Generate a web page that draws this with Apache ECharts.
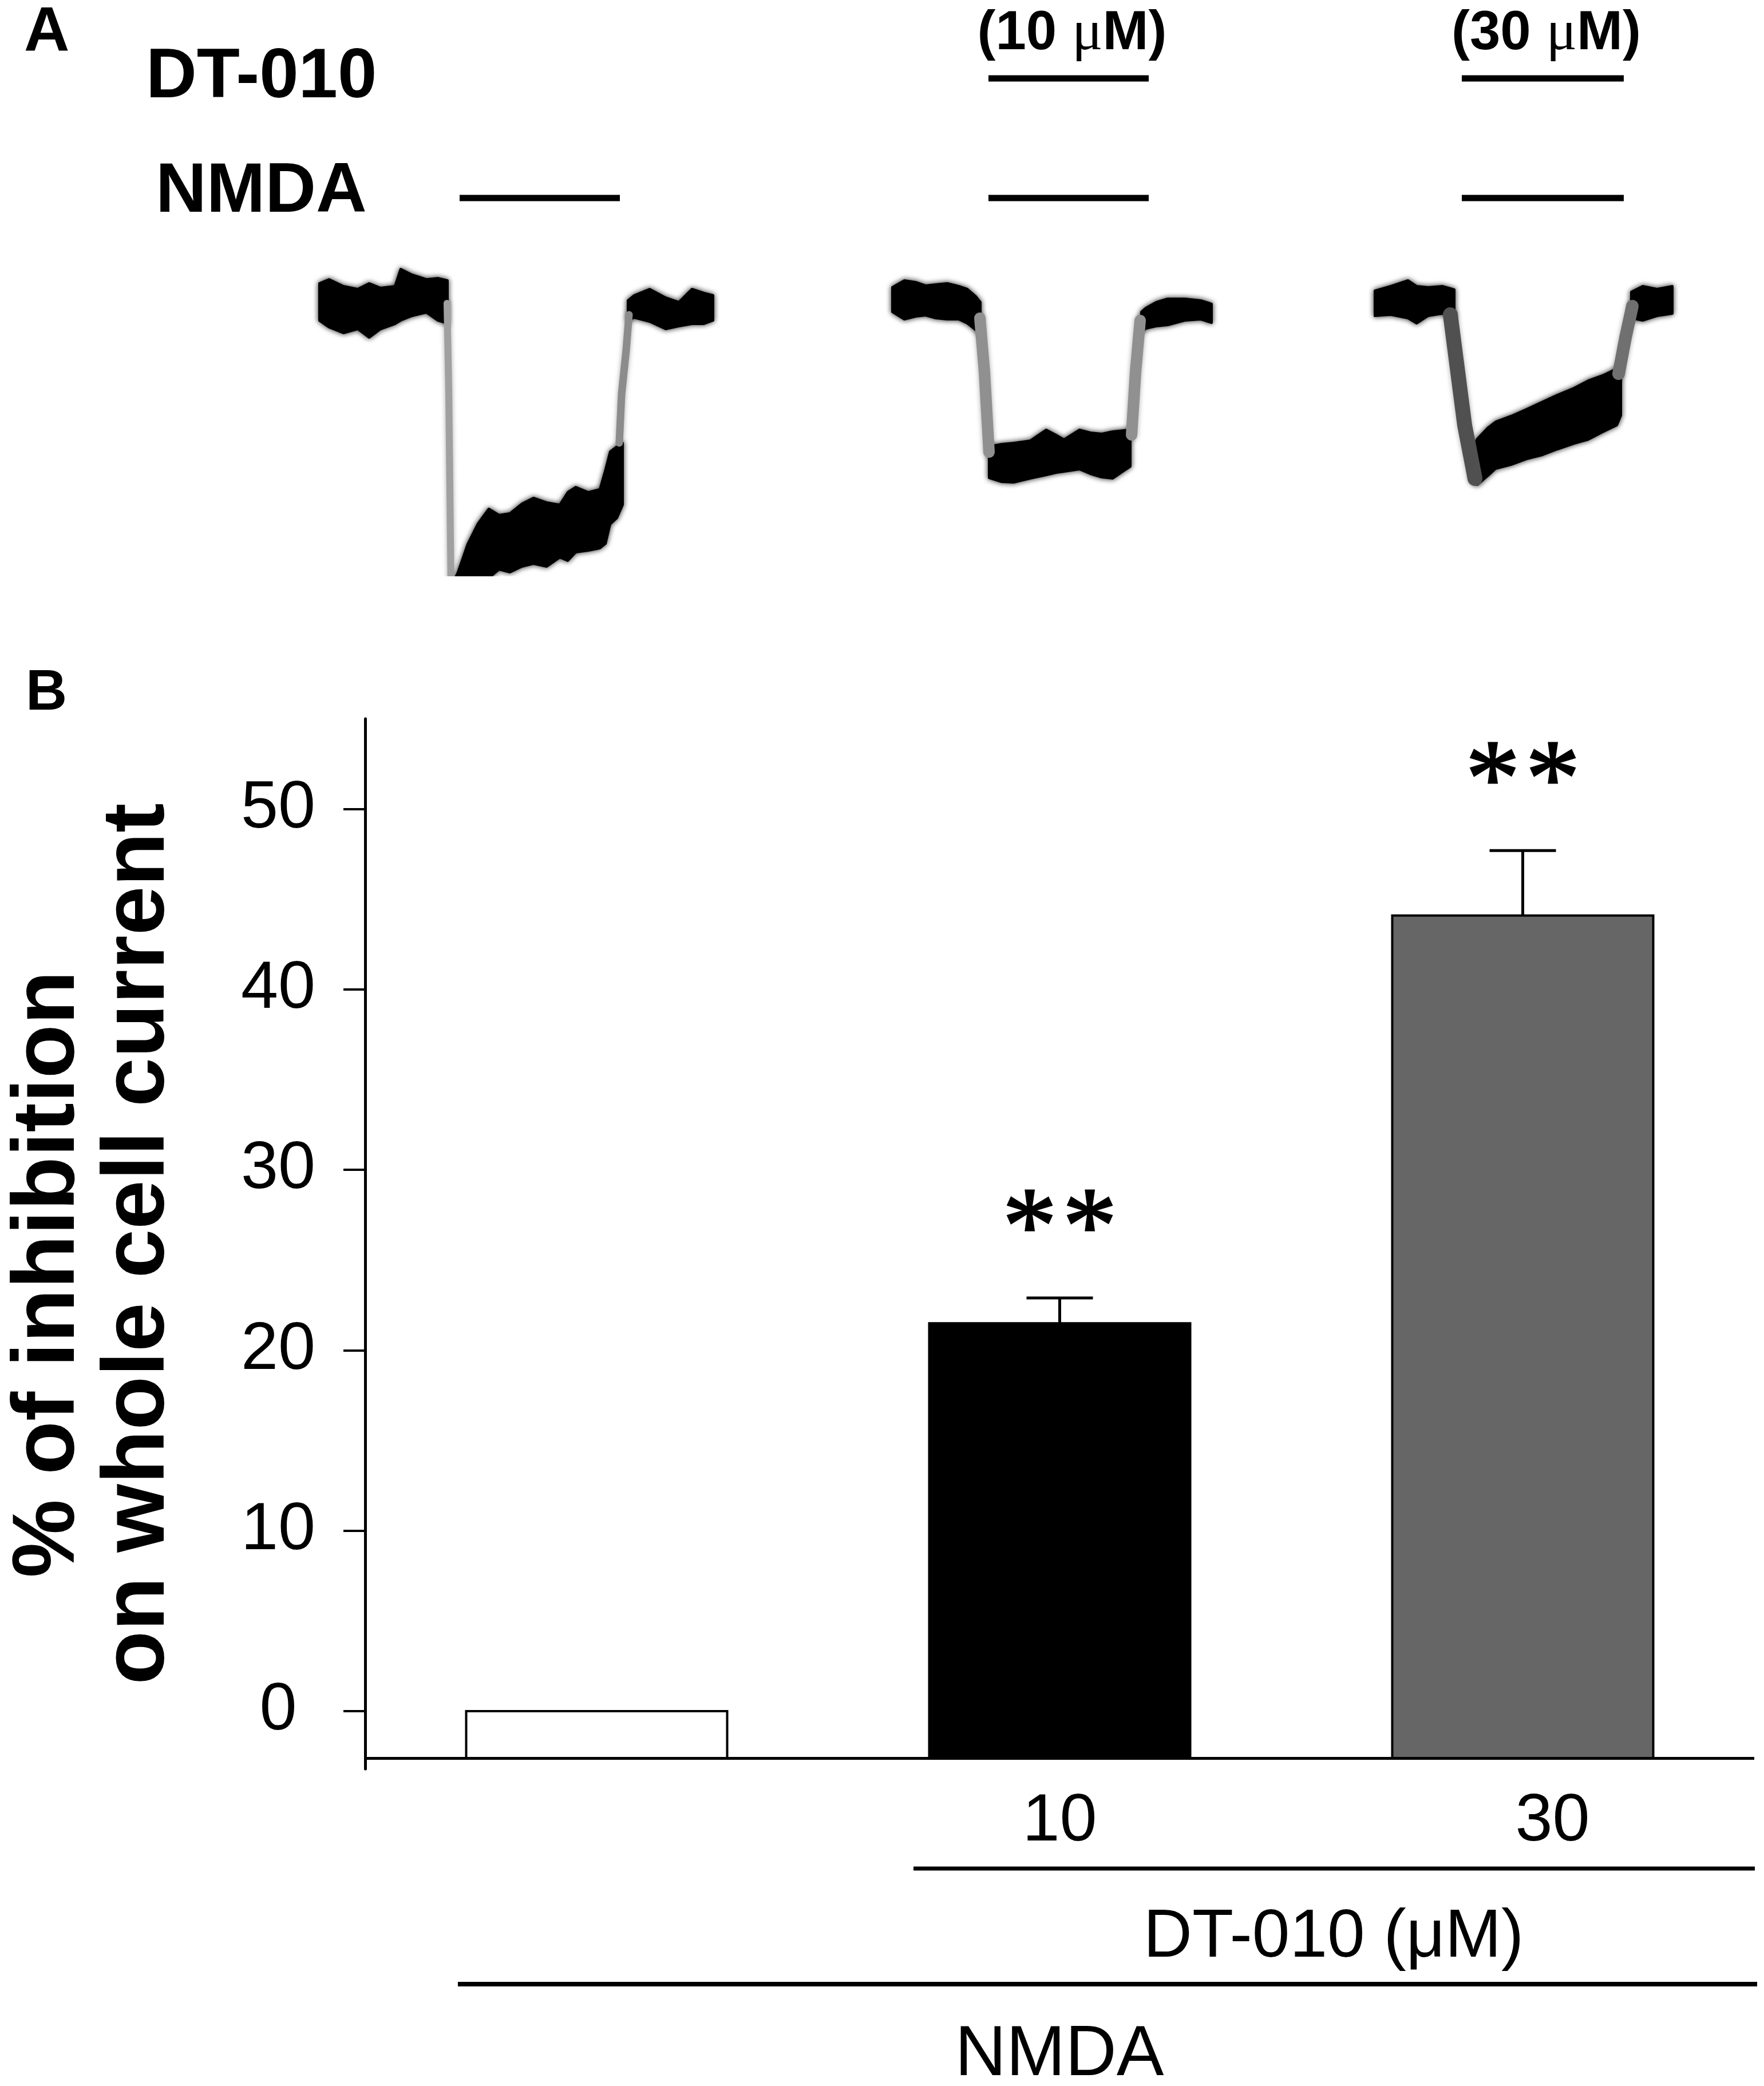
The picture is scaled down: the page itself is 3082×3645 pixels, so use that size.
<!DOCTYPE html>
<html>
<head>
<meta charset="utf-8">
<style>html,body{margin:0;padding:0;background:#fff}#c{width:3082px;height:3645px}</style>
<script src="https://cdn.jsdelivr.net/npm/echarts@6/dist/echarts.min.js"></script>
</head>
<body>
<div id="c"></div>
<script>
// ---------- Panel A: whole-cell current traces ----------
// noisy current bands: [time (s), upper edge, lower edge] (current, arb. units)
const trace1Pre  = [[27.9,70,-60],[28.75,84,-84],[30,60,-104],[31.25,50,-90],[32.25,70,-120],[33.25,54,-90],[34.5,60,-72],[35,120,-60],[36,100,-44],[37.25,84,-32],[38.25,88,-60],[39.1,80,-70]];
const trace1Peak = [[39.3,-1000,-1060],[40,-940,-1060],[40.85,-842,-1060],[41.75,-770,-1020],[42.7,-718,-960],[43.6,-740,-930],[44.55,-734,-940],[45.6,-700,-920],[46.6,-680,-910],[47.75,-696,-920],[48.9,-704,-888],[49.6,-660,-900],[50.3,-642,-870],[51.4,-660,-864],[52.4,-650,-856],[52.9,-580,-840],[53.3,-518,-772],[53.9,-500,-750],[54.4,-488,-704]];
const trace1Post = [[54.85,10,-60],[55.4,28,-50],[56.75,50,-64],[58.15,20,-90],[59.3,4,-80],[60.45,50,-72],[61.5,36,-72],[62.3,28,-60]];
const trace2Pre  = [[77.95,56,-30],[79,80,-56],[80,74,-46],[80.85,62,-42],[81.75,66,-52],[82.75,70,-56],[83.75,60,-56],[84.5,50,-70],[85.25,24,-94],[85.65,4,-108]];
const trace2Peak = [[86.4,-500,-610],[87.5,-492,-624],[88.55,-488,-626],[90,-480,-612],[91.4,-442,-600],[92.25,-460,-592],[92.95,-476,-588],[94.3,-442,-580],[95.25,-452,-596],[96.25,-456,-608],[97.2,-448,-612],[98.15,-444,-586],[98.75,-442,-570]];
const trace2Post = [[99.7,-30,-100],[100.1,-16,-88],[101,4,-80],[102,16,-76],[103.5,16,-60],[104.9,10,-56],[105.85,-2,-68]];
const trace3Pre  = [[120.1,44,-44],[121.5,60,-40],[123,80,-52],[123.75,60,-70],[124.75,56,-44],[126,60,-36],[127.05,48,-52]];
const trace3Peak = [[128.6,-510,-620],[129.05,-474,-634],[130,-434,-602],[130.65,-414,-578],[132,-394,-564],[133.35,-370,-544],[134.75,-344,-530],[136.05,-320,-510],[137.5,-296,-490],[138.75,-270,-476],[140,-252,-450],[141.25,-228,-426],[141.6,-210,-392]];
const trace3Post = [[142.5,40,-52],[143.5,60,-60],[144.75,50,-44],[146.1,60,-36]];
// fast transitions (thin lines): [time (s), current]
const trace1Down = [[39.05,0],[39.2,-300],[39.4,-1000]];
const trace1Up   = [[54.1,-488],[54.3,-318],[54.7,-164],[54.95,-40]];
const trace2Down = [[85.6,-52],[86,-240],[86.4,-520]];
const trace2Up   = [[98.85,-460],[99.2,-240],[99.6,-60]];
const trace3Down = [[126.7,-40],[127.95,-426],[128.85,-612]];
const trace3Up   = [[141.4,-246],[142,-120],[142.6,-10]];

// drug application periods [start, end] (s)
const nmdaPeriods = [[40.15,54.15],[86.35,100.35],[127.7,141.85]];
const dtPeriods   = [[86.35,100.35],[127.7,141.85]];
const dtDoses     = ['10','30'];

// ---------- Panel B: % inhibition ----------
const categories  = ['', '10', '30'];
const inhibition  = [0, 21.5, 44.1];
const sem         = [0, 1.4, 3.6];
const signif      = ['', '**', '**'];
const yTicks      = [0, 10, 20, 30, 40, 50];

// ---------- styles / layout ----------
const SANS = "'Liberation Sans', Arial, sans-serif";
const SERIF = "'Liberation Serif', 'Times New Roman', serif";
const barFills = ['#ffffff', '#000000', '#666666'];
const BAR_BASE = -2.6;   // bars rise from the x-axis line
const BAR_W = 456;

const chart = echarts.init(document.getElementById('c'), null, {renderer: 'canvas', width: 3082, height: 3645});

function seg(data, width, color) {
  return {
    type: 'line', xAxisIndex: 0, yAxisIndex: 0, data: data,
    showSymbol: false, symbol: 'none', clip: false, silent: true,
    lineStyle: {color: color, width: width, cap: 'round', join: 'round',
      shadowBlur: 8, shadowColor: 'rgba(0,0,0,0.35)'}
  };
}
function band(data) {
  return {
    type: 'custom', xAxisIndex: 0, yAxisIndex: 0, data: data, silent: true, clip: false, z: 3,
    renderItem: function (params, api) {
      if (params.dataIndexInside !== 0) return null;
      const n = params.dataInsideLength;
      const up = [], lo = [];
      for (let j = 0; j < n; j++) {
        const t = api.value(0, j);
        up.push(api.coord([t, api.value(1, j)]));
        lo.push(api.coord([t, api.value(2, j)]));
      }
      return {type: 'polygon', shape: {points: up.concat(lo.reverse())},
        style: {fill: '#000', stroke: '#000', lineWidth: 4, lineJoin: 'round', shadowBlur: 10, shadowColor: 'rgba(0,0,0,0.75)'}};
    }
  };
}

const labelRich = {
  c0: {fontSize: 117, fontFamily: SANS, color: '#000'},
  c1: {fontSize: 117, fontFamily: SANS, color: '#000'},
  c2: {fontSize: 117, fontFamily: SANS, color: '#000', padding: [0, 0, 0, 104]}
};

const option = {
  backgroundColor: '#fff',
  animation: false,
  grid: [
    {left: 0, right: 0, top: 0, height: 1006},
    {left: 624, right: 17, top: 1256, bottom: 554}
  ],
  xAxis: [
    {gridIndex: 0, type: 'value', min: 0, max: 154.1, show: false},
    {gridIndex: 1, type: 'category', data: categories,
      axisLine: {show: false}, axisTick: {show: false}, splitLine: {show: false},
      axisLabel: {fontSize: 117, fontFamily: SANS, color: '#000', margin: 34, rich: labelRich,
        formatter: function (v, idx) { return v ? '{c' + idx + '|' + v + '}' : ''; }}}
  ],
  yAxis: [
    {gridIndex: 0, type: 'value', min: -952, max: 1060, show: false},
    {gridIndex: 1, type: 'value', min: -3.2, max: 55, splitLine: {show: false},
      axisLine: {show: true, lineStyle: {color: '#000', width: 5}},
      axisTick: {show: true, length: 38, customValues: yTicks, lineStyle: {color: '#000', width: 4}},
      axisLabel: {customValues: yTicks, fontSize: 117, fontFamily: SANS, color: '#000', align: 'center', margin: 152},
      name: '{a|% of inhibition}\n{b|on whole cell current}',
      nameLocation: 'middle', nameRotate: 90, nameGap: 316,
      nameTextStyle: {
        fontSize: 154, fontWeight: 'bold', fontFamily: SANS, color: '#000', lineHeight: 157,
        rich: {
          a: {fontSize: 154, fontWeight: 'bold', fontFamily: SANS, color: '#000', lineHeight: 157, padding: [0, 106, 0, 0]},
          b: {fontSize: 154, fontWeight: 'bold', fontFamily: SANS, color: '#000', lineHeight: 157}
        }
      }}
  ],
  series: [
    // fast transitions (thin, grey)
    seg(trace1Down, 12, '#a0a0a0'),
    seg(trace1Up, 13, '#8c8c8c'),
    seg(trace2Down, 20, '#909090'),
    seg(trace2Up, 20, '#909090'),
    seg(trace3Down, 26, '#505050'),
    seg(trace3Up, 22, '#707070'),
    // noisy current bands
    band(trace1Pre), band(trace1Peak), band(trace1Post),
    band(trace2Pre), band(trace2Peak), band(trace2Post),
    band(trace3Pre), band(trace3Peak), band(trace3Post),
    // NMDA application bars
    {
      type: 'custom', xAxisIndex: 0, yAxisIndex: 0, silent: true, clip: false,
      data: nmdaPeriods,
      renderItem: function (params, api) {
        const a = api.coord([api.value(0), 0]);
        const b = api.coord([api.value(1), 0]);
        return {type: 'line', shape: {x1: a[0], y1: 346, x2: b[0], y2: 346}, style: {stroke: '#000', lineWidth: 11}};
      }
    },
    // DT-010 application bars with dose labels
    {
      type: 'custom', xAxisIndex: 0, yAxisIndex: 0, silent: true, clip: false,
      data: dtPeriods,
      renderItem: function (params, api) {
        const a = api.coord([api.value(0), 0]);
        const b = api.coord([api.value(1), 0]);
        const cx = (a[0] + b[0]) / 2 + 6;
        return {type: 'group', children: [
          {type: 'line', shape: {x1: a[0], y1: 137, x2: b[0], y2: 137}, style: {stroke: '#000', lineWidth: 11}},
          {type: 'text', x: cx, y: 60, style: {
            text: '{b|(' + dtDoses[params.dataIndex] + ' }{m|μ}{b|M)}',
            align: 'center', verticalAlign: 'middle', textAlign: 'center', textVerticalAlign: 'middle',
            rich: {
              b: {fontSize: 96, fontWeight: 'bold', fontFamily: SANS, fill: '#000', color: '#000'},
              m: {fontSize: 100, fontWeight: 'normal', fontFamily: SERIF, fill: '#000', color: '#000'}
            }}}
        ]};
      }
    },
    // Panel B bars
    {
      type: 'custom', xAxisIndex: 1, yAxisIndex: 1, silent: true,
      data: inhibition.map(function (v, i) { return [i, v]; }),
      renderItem: function (params, api) {
        const i = api.value(0), v = api.value(1);
        const top = api.coord([i, v]);
        const bot = api.coord([i, BAR_BASE]);
        return {type: 'rect', shape: {x: top[0] - BAR_W / 2, y: top[1], width: BAR_W, height: bot[1] - top[1]},
          style: {fill: barFills[params.dataIndex], stroke: '#000', lineWidth: 4}};
      }
    },
    // error bars + significance
    {
      type: 'custom', xAxisIndex: 1, yAxisIndex: 1, silent: true, z: 3,
      data: inhibition.map(function (v, i) { return [i, v, sem[i]]; }),
      renderItem: function (params, api) {
        const i = api.value(0), v = api.value(1), e = api.value(2);
        const children = [];
        const p0 = api.coord([i, v]);
        const p1 = api.coord([i, v + e]);
        if (e > 0) {
          children.push({type: 'line', shape: {x1: p0[0], y1: p0[1], x2: p1[0], y2: p1[1]}, style: {stroke: '#000', lineWidth: 5}});
          children.push({type: 'line', shape: {x1: p1[0] - 58, y1: p1[1], x2: p1[0] + 58, y2: p1[1]}, style: {stroke: '#000', lineWidth: 5}});
        }
        const s = signif[params.dataIndex];
        for (let k = 0; k < s.length; k++) {
          children.push({type: 'text', x: p1[0] + (k - (s.length - 1) / 2) * 105, y: p1[1] - 113,
            style: {text: s[k], fontSize: 190, fontFamily: SERIF, fill: '#000', stroke: '#000', lineWidth: 3,
              align: 'center', verticalAlign: 'middle', textAlign: 'center', textVerticalAlign: 'middle'}});
        }
        return {type: 'group', children: children};
      }
    },
    // x-axis line of panel B (at bar base)
    {
      type: 'line', xAxisIndex: 1, yAxisIndex: 1, data: [], silent: true,
      markLine: {silent: true, symbol: ['none', 'none'], label: {show: false}, animation: false,
        lineStyle: {color: '#000', width: 5, type: 'solid'},
        data: [{yAxis: BAR_BASE}]}
    }
  ],
  graphic: [
    // mask below the panel-A trace crop
    {type: 'rect', z: 100, shape: {x: 560, y: 1007, width: 800, height: 160}, style: {fill: '#fff'}},
    {type: 'text', z: 101, x: 42, y: 58, style: {text: 'A', fontSize: 110, fontWeight: 'bold', fontFamily: SANS, fill: '#000', align: 'left', verticalAlign: 'middle', textAlign: 'left', textVerticalAlign: 'middle'}},
    {type: 'text', z: 101, x: 255, y: 136, style: {text: 'DT-010', fontSize: 123, fontWeight: 'bold', fontFamily: SANS, fill: '#000', align: 'left', verticalAlign: 'middle', textAlign: 'left', textVerticalAlign: 'middle'}},
    {type: 'text', z: 101, x: 272, y: 336, style: {text: 'NMDA', fontSize: 123, fontWeight: 'bold', fontFamily: SANS, fill: '#000', align: 'left', verticalAlign: 'middle', textAlign: 'left', textVerticalAlign: 'middle'}},
    {type: 'text', z: 101, x: 45, y: 1212, style: {text: 'B', fontSize: 100, fontWeight: 'bold', fontFamily: SANS, fill: '#000', align: 'left', verticalAlign: 'middle', textAlign: 'left', textVerticalAlign: 'middle'}},
    {type: 'line', z: 101, shape: {x1: 1596, y1: 3265, x2: 3066, y2: 3265}, style: {stroke: '#000', lineWidth: 7}},
    {type: 'text', z: 101, x: 2330, y: 3386, style: {text: 'DT-010 (μM)', fontSize: 118, fontFamily: SANS, fill: '#000', align: 'center', verticalAlign: 'middle', textAlign: 'center', textVerticalAlign: 'middle'}},
    {type: 'line', z: 101, shape: {x1: 800, y1: 3467, x2: 3070, y2: 3467}, style: {stroke: '#000', lineWidth: 8}},
    {type: 'text', z: 101, x: 1851, y: 3592, style: {text: 'NMDA', fontSize: 124, fontFamily: SANS, fill: '#000', align: 'center', verticalAlign: 'middle', textAlign: 'center', textVerticalAlign: 'middle'}}
  ]
};
chart.setOption(option);
</script>
</body>
</html>
